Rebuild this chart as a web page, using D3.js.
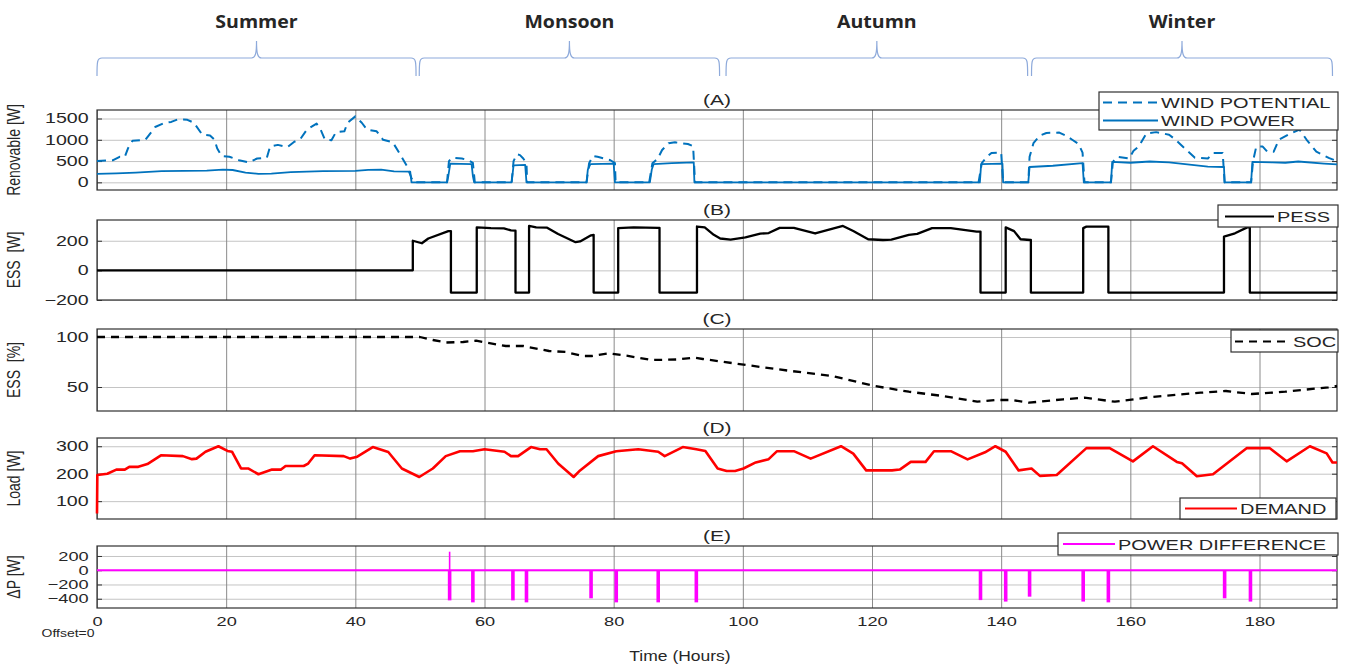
<!DOCTYPE html>
<meta charset="utf-8">
<script src="https://d3js.org/d3.v7.min.js"></script>
<style>
  body { margin: 0; background: #fff; }
  text { font-family: "Liberation Sans", Arial, sans-serif; fill: #262626; }
</style>
<div id="chart"></div>
<script>

// ---------- data (hours, value) ----------
var hourTicks = [0, 20, 40, 60, 80, 100, 120, 140, 160, 180];

var seasonNames = ["Summer", "Monsoon", "Autumn", "Winter"];
var seasonStart = [0, 49.9, 97.4, 144.7];
var seasonEnd   = [49.4, 96.4, 144.1, 191.3];

var windPotential = [
  [0,500],[2.5,520],[3.5,600],[4.3,600],[4.8,800],[5.5,980],[7.5,1000],[9,1300],[10.5,1400],[11.5,1420],
  [12.5,1480],[14,1470],[15,1400],[16.3,1120],[17.5,1100],[18.2,1000],[18.6,800],[19.3,620],[20.5,600],
  [22,520],[23.5,470],[24.8,560],[26.3,580],[26.8,840],[28,880],[29.5,830],[30.5,950],[31.5,1020],
  [32.5,1240],[34,1380],[34.6,1250],[35.3,1000],[36.3,990],[37,1180],[38.3,1200],[38.8,1400],[40,1550],
  [41,1400],[41.8,1240],[43.3,1200],[44.3,1000],[45.8,940],[47,640],[48,380],[48.7,100],[49,0],
  [54.2,0],[54.5,500],[55,580],[56.5,560],[57.5,520],[58.2,460],[58.5,0],
  [64.2,0],[64.5,500],[65,660],[65.5,640],[66,560],[66.5,450],[66.6,0],
  [75.8,0],[76.2,450],[76.8,620],[77.5,600],[78.5,560],[79.5,520],[80.2,450],[80.3,0],
  [85.5,0],[86,450],[86.8,550],[87.5,760],[88.5,920],[89.5,940],[91.5,900],[92.3,850],[92.6,0],
  [136.5,0],[137,450],[137.8,600],[138.5,690],[140,700],[140.3,0],
  [144.2,0],[144.4,600],[145,920],[146,1100],[147,1160],[149,1170],[150,1100],[151,1000],[152,900],[152.6,700],[152.9,0],
  [157,0],[157.3,480],[158,600],[159.8,560],[160.5,740],[161.3,840],[162.5,1150],[164,1180],[166,1120],
  [167,1000],[168.7,760],[170,580],[172,560],[172.8,690],[174.3,690],[174.6,0],
  [178.7,0],[179,500],[179.5,840],[180.5,840],[181.2,720],[182.2,720],[183,1000],[184.7,1140],[186.2,1240],
  [187.3,1000],[188.8,720],[190.8,570],[192,500]
];

var windPower = [
  [0,200],[3,210],[6,230],[10,265],[17,275],[19.5,300],[21,290],[23,230],[25,200],[27,205],[30,240],
  [35,265],[40,270],[42,295],[44,300],[46,260],[48.5,250],[48.7,0],
  [54.2,0],[54.4,150],[54.7,440],[58,430],[58.2,150],[58.4,0],
  [64.2,0],[64.5,400],[66.3,410],[66.5,0],
  [75.8,0],[76,300],[76.4,430],[80,440],[80.2,0],
  [85.6,0],[85.9,300],[86.2,430],[89,450],[92.4,470],[92.5,0],
  [136.7,0],[136.9,430],[140.2,440],[140.3,0],
  [144.2,0],[144.4,360],[148,390],[152.6,450],[152.8,0],
  [157,0],[157.2,480],[160,460],[163,490],[166,470],[172,370],[174.5,360],[174.6,0],
  [178.7,0],[178.9,480],[182,470],[184,460],[186,490],[190,440],[192,420]
];

var pess = [
  [0,0],[48.9,0],[48.9,200],[50.3,183],[51.3,215],[54.4,265],[54.8,265],[54.8,-150],[58.8,-150],
  [58.8,290],[61,285],[63,283],[64.1,270],[64.8,268],[64.8,-150],[66.9,-150],[66.9,300],[68,290],
  [69.7,288],[71.4,245],[74.1,190],[74.8,195],[76.5,237],[76.9,240],[76.9,-150],[80.7,-150],
  [80.7,285],[83.1,290],[86.9,287],[87.1,287],[87.1,-150],[92.9,-150],[92.9,296],[94.1,290],
  [95.5,240],[96.5,215],[98.1,208],[100.4,222],[102.7,248],[104,252],[105.7,287],[107.9,287],
  [111.2,249],[115.5,300],[117.1,266],[119.4,210],[121.7,205],[123,208],[125.7,240],[127,246],
  [129.3,285],[132.2,285],[136.2,262],[136.8,262],[136.8,-150],[140.7,-150],[140.7,290],[142,265],
  [143,210],[144.5,205],[144.6,205],[144.6,-150],[152.7,-150],[152.7,285],[153.2,295],[156.6,295],
  [156.6,-150],[174.5,-150],[174.5,228],[176.2,250],[178.1,290],[178.5,290],[178.5,-150],[192,-150]
];

var soc = [
  [0,100],[50,100],[52,97],[54,94.5],[56.7,95],[58.7,96.3],[60,94.7],[63.3,91],[66,91],[70,86],
  [72.6,85],[75.2,81],[76.6,81],[79.3,83.7],[82,81.3],[85.9,77],[89.8,77.5],[92.5,79.3],[93.8,78],
  [100.5,72],[107.1,66.3],[113.8,61],[120.4,51],[125.7,45.3],[131,41],[136.3,35.3],[139,37],
  [141.6,37],[144.3,34.3],[149.6,37.7],[152.9,39.3],[157.6,35.3],[162.9,39.7],[170.9,44.3],
  [174.8,46],[178.8,43],[184,45.3],[190.7,49.7],[192,51]
];

var demand = [
  [0,55],[0.05,195],[1.6,200],[3,215],[4.3,215],[5,225],[6.4,225],[7.8,235],[9.9,267],[13.3,264],
  [14.7,253],[15.4,255],[16.8,280],[18.8,300],[20.2,283],[20.9,280],[22.3,219],[23.4,219],[25,198],
  [27.1,215],[28.5,215],[29.2,228],[32,228],[32.7,237],[33.7,267],[38.2,264],[39.2,255],[40.3,262],
  [42.7,297],[45.1,279],[47.2,219],[49.9,188],[52,219],[54,264],[56.2,282],[58.2,282],[60,289],
  [63.1,280],[64.1,264],[65.2,264],[67.2,297],[68.6,289],[69.6,289],[71.4,237],[73.8,188],[74.8,212],
  [77.6,264],[80.4,282],[83.8,289],[86.9,280],[87.9,264],[90.7,297],[92.8,289],[94.2,283],[96.1,219],
  [97.5,210],[98.8,210],[100.1,219],[102,241],[104,253],[105.3,282],[107.9,282],[110.5,255],[115.2,300],
  [117.1,273],[119.1,212],[123.1,212],[124.3,215],[126,243],[128.3,243],[129.6,282],[132.2,282],
  [134.8,252],[137.5,278],[139.1,300],[140.7,280],[142.7,212],[144.7,219],[146,192],[148.6,195],
  [153.2,293],[156.8,293],[160.4,245],[163.5,300],[167.2,243],[168,238],[170.3,191],[172.8,198],
  [178,293],[181.6,293],[184.2,245],[187.8,300],[190.4,274],[191.3,241],[192,241]
];

var spikeHours  = [54.6, 58.2, 64.4, 66.5, 76.5, 80.4, 86.9, 92.8, 136.8, 140.7, 144.4, 152.7, 156.6, 174.6, 178.6];
var spikeValues = [-423, -451, -423, -451, -394, -451, -451, -451, -419, -440, -371, -440, -451, -394, -440];
var upSpike = [54.6, 260];

// ---------- layout ----------
var W = 1345, H = 664;
var left = 97, right = 1337;
var SX = 1.4; // source picture is stretched sideways

var svg = d3.select("#chart").append("svg")
    .attr("width", W).attr("height", H);

svg.append("rect").attr("width", W).attr("height", H).attr("fill", "#fff");

var x = d3.scaleLinear().domain([0, 192]).range([left, right]);

var panels = [
  {name: "(A)", top: 110, bottom: 190, domain: [-180, 1700], ticks: [0, 500, 1000, 1500], label: "Renovable [W]", fs: 14},
  {name: "(B)", top: 220, bottom: 300, domain: [-200, 340], ticks: [-200, 0, 200], label: "ESS\u00a0\u00a0[W]", fs: 14},
  {name: "(C)", top: 329, bottom: 411, domain: [26, 108], ticks: [50, 100], label: "ESS\u00a0\u00a0[%]", fs: 14},
  {name: "(D)", top: 438, bottom: 519, domain: [35, 330], ticks: [100, 200, 300], label: "Load [W]", fs: 14},
  {name: "(E)", top: 546, bottom: 608, domain: [-530, 340], ticks: [-400, -200, 0, 200], label: "\u0394P [W]", fs: 13}
];

function stretched(g, px, py, str, size, sx, anchor) {
  return g.append("text")
    .attr("transform", "translate(" + px + "," + py + ") scale(" + sx + ",1)")
    .attr("text-anchor", anchor || "middle")
    .style("font-size", size + "px")
    .text(str);
}

panels.forEach(function (p) {
  var y = d3.scaleLinear().domain(p.domain).range([p.bottom, p.top]);
  p.y = y;
  var g = svg.append("g");
  p.g = g;
  var h = p.bottom - p.top;

  // horizontal grid
  g.append("g")
    .attr("transform", "translate(" + left + ",0)")
    .call(d3.axisLeft(y).tickValues(p.ticks).tickSize(-(right - left)).tickFormat(""))
    .call(function (a) {
      a.select(".domain").remove();
      a.selectAll("line").attr("stroke", "#c4c4c4");
    });

  // vertical grid
  g.append("g")
    .attr("transform", "translate(0," + p.bottom + ")")
    .call(d3.axisBottom(x).tickValues(hourTicks).tickSize(-h).tickFormat(""))
    .call(function (a) {
      a.select(".domain").remove();
      a.selectAll("line").attr("stroke", "#8a8a8a");
    });

  // frame
  g.append("rect")
    .attr("x", left).attr("y", p.top)
    .attr("width", right - left).attr("height", h)
    .attr("fill", "none").attr("stroke", "#303030").attr("stroke-width", 1.2);

  // y axis with inward ticks
  g.append("g")
    .attr("transform", "translate(" + left + ",0)")
    .call(d3.axisLeft(y).tickValues(p.ticks).tickSize(-5).tickPadding(6).tickFormat(d3.format("d")))
    .call(function (a) {
      a.select(".domain").remove();
      a.selectAll("line").attr("stroke", "#303030");
      a.selectAll("text")
        .attr("transform", "scale(" + SX + ",1)")
        .style("font-size", p.fs + "px")
        .style("font-family", "'Liberation Sans', Arial, sans-serif")
        .attr("fill", "#262626");
    });
  g.append("g")
    .attr("transform", "translate(" + right + ",0)")
    .call(d3.axisRight(y).tickValues(p.ticks).tickSize(-5).tickFormat(""))
    .call(function (a) {
      a.select(".domain").remove();
      a.selectAll("line").attr("stroke", "#303030");
    });

  // panel title
  stretched(svg, 717, p.top - 5, p.name, 15, SX);

  // y label
  svg.append("text")
    .attr("transform", "translate(20," + ((p.top + p.bottom) / 2) + ") scale(1.3,1) rotate(-90)")
    .attr("text-anchor", "middle")
    .style("font-size", "14px")
    .text(p.label);
});

var A = panels[0], B = panels[1], C = panels[2], D = panels[3], E = panels[4];

function drawLine(p, data, color, width, dash) {
  var line = d3.line().x(function (d) { return x(d[0]); }).y(function (d) { return p.y(d[1]); });
  p.g.append("path")
    .datum(data)
    .attr("d", line)
    .attr("fill", "none")
    .attr("stroke", color)
    .attr("stroke-width", width)
    .attr("stroke-linejoin", "round")
    .attr("stroke-dasharray", dash || null);
}

var blue = "#0072BD";
drawLine(A, windPower, blue, 1.8);
drawLine(A, windPotential, blue, 2, "9,6");
drawLine(B, pess, "#000", 2.3);
drawLine(C, soc, "#000", 2.3, "8,6");
drawLine(D, demand, "#ff0000", 2.6);

// power difference: zero line with spikes
E.g.append("line")
  .attr("x1", x(0)).attr("x2", x(192))
  .attr("y1", E.y(0)).attr("y2", E.y(0))
  .attr("stroke", "#ff00ff").attr("stroke-width", 2);
E.g.append("line")
  .attr("x1", x(upSpike[0])).attr("x2", x(upSpike[0]))
  .attr("y1", E.y(upSpike[1])).attr("y2", E.y(0))
  .attr("stroke", "#ff00ff").attr("stroke-width", 1.6);
E.g.selectAll(".spike")
  .data(spikeHours)
  .enter()
  .append("line")
    .attr("class", "spike")
    .attr("x1", function (d) { return x(d); })
    .attr("x2", function (d) { return x(d); })
    .attr("y1", E.y(0))
    .attr("y2", function (d, i) { return E.y(spikeValues[i]); })
    .attr("stroke", "#ff00ff")
    .attr("stroke-width", 3.6);

// x axis labels under panel E
svg.append("g")
  .attr("transform", "translate(0," + E.bottom + ")")
  .call(d3.axisBottom(x).tickValues(hourTicks).tickSize(0).tickPadding(9))
  .call(function (a) {
    a.select(".domain").remove();
    a.selectAll("text")
      .attr("transform", "scale(" + SX + ",1)")
      .style("font-size", "13px")
      .style("font-family", "'Liberation Sans', Arial, sans-serif")
      .attr("fill", "#262626");
  });

stretched(svg, 68, 637, "Offset=0", 10, SX);
stretched(svg, 680, 661, "Time (Hours)", 14, 1.25);

// ---------- legends ----------
function legend(x0, y0, x1, y1, items) {
  var g = svg.append("g");
  g.append("rect")
    .attr("x", x0).attr("y", y0)
    .attr("width", x1 - x0).attr("height", y1 - y0)
    .attr("fill", "#fff").attr("stroke", "#303030").attr("stroke-width", 1.2);
  items.forEach(function (it) {
    g.append("line")
      .attr("x1", it.l0).attr("x2", it.l1)
      .attr("y1", it.cy).attr("y2", it.cy)
      .attr("stroke", it.color).attr("stroke-width", it.width)
      .attr("stroke-dasharray", it.dash || null);
    stretched(g, it.l1 + 3, it.cy + 5.5, it.label, 15, 1.33, "start");
  });
}

legend(1099, 92, 1338, 130, [
  {label: "WIND POTENTIAL", l0: 1103, l1: 1158, cy: 102.5, color: blue, width: 2, dash: "9,6"},
  {label: "WIND POWER", l0: 1103, l1: 1158, cy: 120.5, color: blue, width: 2}
]);
legend(1218, 205, 1338, 227, [
  {label: "PESS", l0: 1225, l1: 1274, cy: 216.5, color: "#000", width: 2}
]);
legend(1231, 330, 1338, 352, [
  {label: "SOC", l0: 1235, l1: 1290, cy: 341.5, color: "#000", width: 2, dash: "8,6"}
]);
legend(1180, 498, 1336, 519, [
  {label: "DEMAND", l0: 1185, l1: 1237, cy: 508.5, color: "#ff0000", width: 2}
]);
legend(1058, 533, 1338, 555, [
  {label: "POWER DIFFERENCE", l0: 1063, l1: 1115, cy: 544, color: "#ff00ff", width: 2}
]);

// ---------- season braces ----------
var braces = svg.append("g");
seasonNames.forEach(function (name, i) {
  var x0 = x(seasonStart[i]), x1 = x(seasonEnd[i]), xm = (x0 + x1) / 2;
  var yl = 58, ye = 76, yt = 41;
  var d = "M" + x0 + "," + ye +
    " C" + x0 + "," + (yl + 4) + " " + x0 + "," + yl + " " + (x0 + 5) + "," + yl +
    " L" + (xm - 5) + "," + yl +
    " C" + (xm - 1) + "," + yl + " " + xm + "," + (yl - 5) + " " + xm + "," + yt +
    " C" + xm + "," + (yl - 5) + " " + (xm + 1) + "," + yl + " " + (xm + 5) + "," + yl +
    " L" + (x1 - 5) + "," + yl +
    " C" + x1 + "," + yl + " " + x1 + "," + (yl + 4) + " " + x1 + "," + ye;
  braces.append("path")
    .attr("d", d)
    .attr("fill", "none")
    .attr("stroke", "#8eaadb")
    .attr("stroke-width", 1.2);
  braces.append("text")
    .attr("transform", "translate(" + xm + ",28) scale(1.15,1)")
    .attr("text-anchor", "middle")
    .style("font-family", "'Open Sans', sans-serif")
    .style("font-weight", "700")
    .style("font-size", "17px")
    .attr("fill", "#000")
    .text(name);
});

</script>
